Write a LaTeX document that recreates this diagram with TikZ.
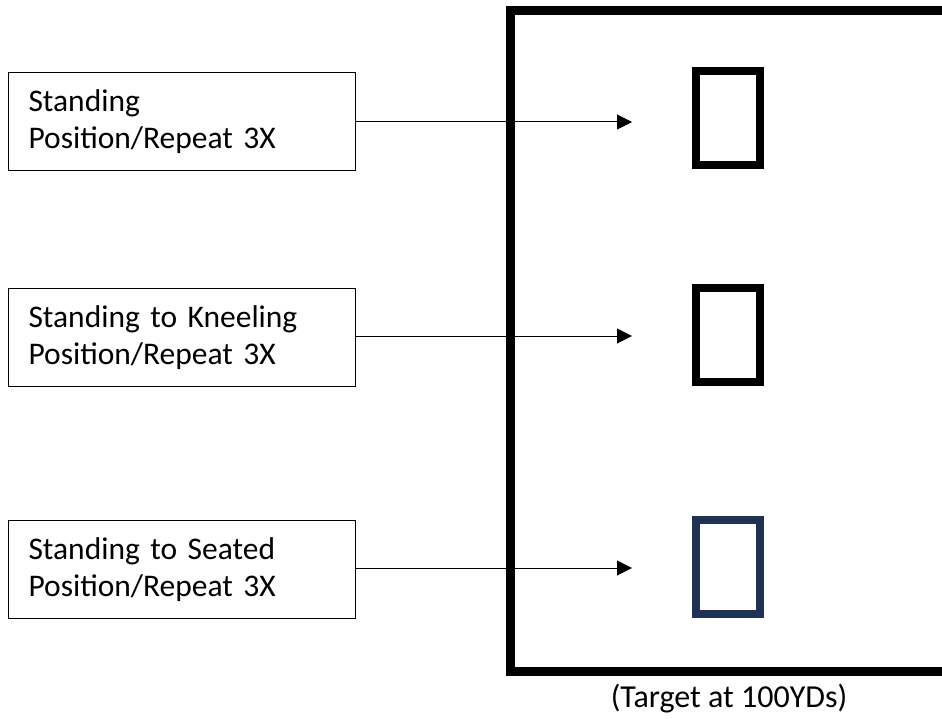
\documentclass[tikz,border=0pt]{standalone}
\usepackage{fontspec}
\setmainfont{Carlito}
\usetikzlibrary{arrows.meta}
\definecolor{navy}{RGB}{31,49,85}
\begin{document}
\begin{tikzpicture}[x=1pt,y=-1pt,
  posbox/.style={draw=black, line width=1pt, minimum width=347pt, minimum height=98pt,
    text width=307pt, inner xsep=20pt, inner ysep=0pt, align=left,
    font=\fontsize{31.5}{37}\selectfont, anchor=north west},
  target/.style={draw=black, line width=8pt, minimum width=64pt, minimum height=94pt, inner sep=0pt},
  shot/.style={line width=1pt, -{Triangle[length=15pt,width=15pt]}},
  caption/.style={font=\fontsize{32}{38}\selectfont}]
\clip (0,0) rectangle (942,719);
\useasboundingbox (0,0) rectangle (942,719);
% range frame
\draw[line width=9pt] (960,10.5) -- (510,10.5) -- (510,671.5) -- (960,671.5);
% position boxes
\node[posbox] (b1) at (8,72) {Standing\\Position/Repeat 3X};
\node[posbox] (b2) at (8,288) {Standing to Kneeling\\Position/Repeat 3X};
\node[posbox] (b3) at (8,520) {Standing to Seated\\Position/Repeat 3X};
% targets
\node[target] (t1) at (728,118) {};
\node[target] (t2) at (728,335) {};
\node[target, draw=navy] (t3) at (728,566.5) {};
% arrow ends
\coordinate (e1) at (632,122);
\coordinate (e2) at (632,336);
\coordinate (e3) at (632,568);
\draw[shot] (b1.east |- e1) -- (e1);
\draw[shot] (b2.east |- e2) -- (e2);
\draw[shot] (b3.east |- e3) -- (e3);
\node[caption] (cap) at (729,699) {(Target at 100YDs)};
\end{tikzpicture}
\end{document}
